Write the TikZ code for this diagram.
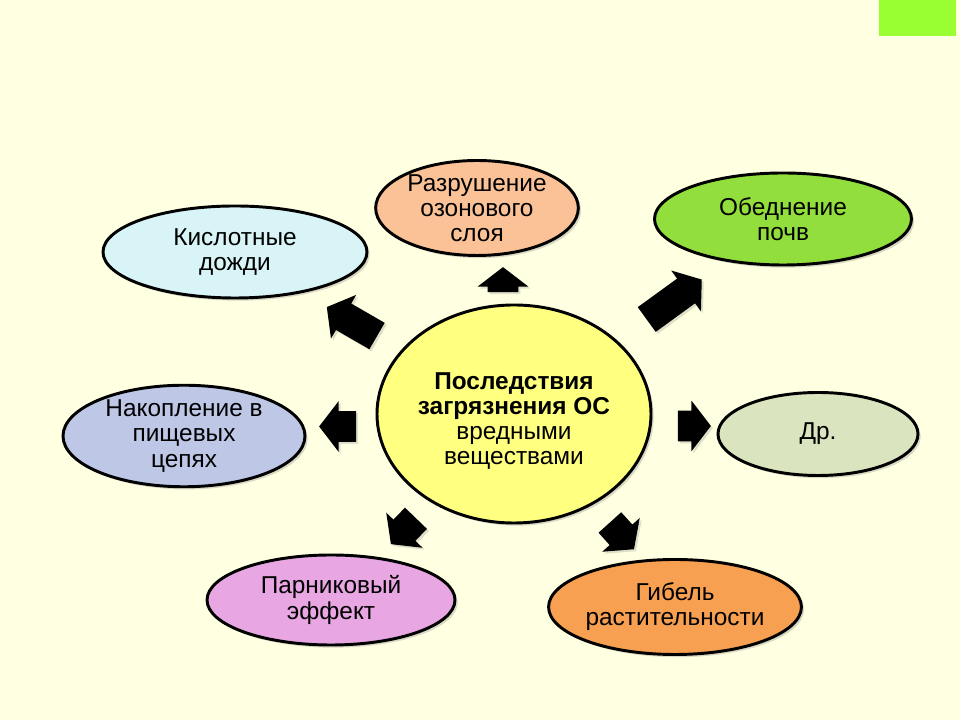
\documentclass[tikz,border=0pt]{standalone}
\usepackage{fontspec}
\setmainfont{Liberation Sans}
\usepackage{tikz}
\usetikzlibrary{positioning, shapes.geometric, shapes.arrows, shadows}
\definecolor{slideBg}{RGB}{255,255,226}
\definecolor{slideGreen}{RGB}{153,255,51}
\definecolor{causeYellow}{RGB}{255,255,128}
\definecolor{ozonePeach}{RGB}{250,194,150}
\definecolor{soilGreen}{RGB}{146,222,60}
\definecolor{acidCyan}{RGB}{216,244,246}
\definecolor{foodBlue}{RGB}{190,200,230}
\definecolor{otherOlive}{RGB}{218,228,190}
\definecolor{greenPink}{RGB}{232,166,226}
\definecolor{plantOrange}{RGB}{248,160,82}

\begin{document}
\begin{tikzpicture}[x=0.75pt, y=0.75pt,
	effect/.style={ellipse, draw, line width=2.2pt, align=center, inner sep=0pt,
		font=\fontsize{18.3}{18.8}\selectfont,
		drop shadow={shadow xshift=2pt, shadow yshift=-2pt, opacity=0.3}},
	blockarrow/.style={single arrow, fill=black, inner xsep=0pt, inner ysep=11.25pt,
		single arrow head extend=7.5pt, single arrow tip angle=105,
		drop shadow={shadow xshift=1.5pt, shadow yshift=-1.5pt, opacity=0.25}}]
	% Slide
	\useasboundingbox (0,0) rectangle (960,720);
	\fill[slideBg] (0,0) rectangle (960,720);
	\fill[slideGreen] (879,684) rectangle (956,720);
	
	% Center
	\node[effect, fill=causeYellow, minimum width=205.5pt, minimum height=163.5pt] (cause) at (514,306)
		{\rule{0pt}{23pt}\textbf{Последствия}\\ \textbf{загрязнения ОС}\\ вредными\\ веществами};
	
	% Consequences
	\node[effect, fill=ozonePeach, minimum width=152pt, minimum height=66pt] (ozone) at (477,512) {Разрушение\\ озонового\\ слоя};
	\node[effect, fill=soilGreen, minimum width=192.75pt, minimum height=69pt] (soil) at (783,501) {Обеднение\\ почв};
	\node[effect, fill=acidCyan, minimum width=198pt, minimum height=69pt] (acid) at (235,468) {Кислотные\\ дожди};
	\node[effect, fill=foodBlue, minimum width=181.5pt, minimum height=75pt] (food) at (184,284) {Накопление в\\ пищевых\\ цепях};
	\node[effect, fill=otherOlive, minimum width=150pt, minimum height=62.25pt] (other) at (818,286) {Др.};
	\node[effect, fill=greenPink, minimum width=186pt, minimum height=67.5pt] (greenhouse) at (331,120) {Парниковый\\ эффект};
	\node[effect, fill=plantOrange, minimum width=187.5pt, minimum height=71.25pt] (plants) at (675,113) {Гибель\\ растительности};
	
	% Arrows
	\node[blockarrow, minimum height=18.75pt, rotate=90] (arrOzone) at (503,434.5) {};
	\node[blockarrow, minimum height=51pt, rotate=36] (arrSoil) at (669.5,417) {};
	\node[blockarrow, minimum height=43.5pt, rotate=150] (arrAcid) at (357,395.5) {};
	\node[blockarrow, minimum height=27.75pt, rotate=180] (arrFood) at (343.5,293.5) {};
	\node[blockarrow, minimum height=24.75pt, rotate=0] (arrOther) at (688.5,294) {};
	\node[blockarrow, minimum height=27pt, rotate=-134] (arrGreenhouse) at (407.5,193) {};
	\node[blockarrow, minimum height=27pt, rotate=-48] (arrPlants) at (618,188.5) {};
\end{tikzpicture}
\end{document}
